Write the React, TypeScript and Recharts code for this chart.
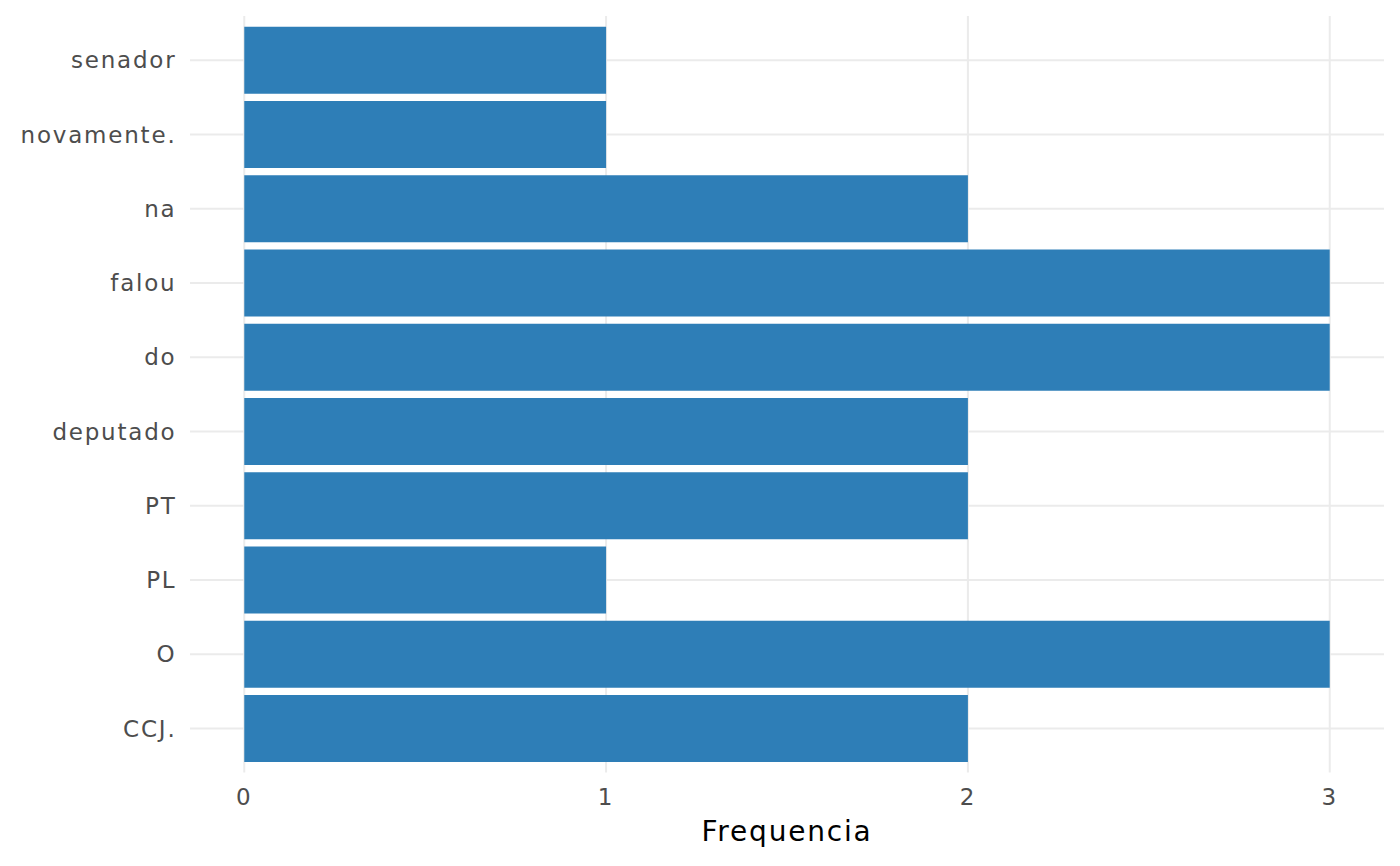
import React from 'react';
import { BarChart, Bar, XAxis, YAxis, CartesianGrid } from 'recharts';

// words, top to bottom as they appear on the chart
const palavras = ['senador', 'novamente.', 'na', 'falou', 'do', 'deputado', 'PT', 'PL', 'O', 'CCJ.'];
const frequencias = [1, 1, 2, 3, 3, 2, 2, 1, 3, 2];
const xTicks = [0, 1, 2, 3];

const data = palavras.map((palavra, i) => ({ palavra, freq: frequencias[i] }));

const App: React.FC = () => {
  return (
    <div
      style={{
        position: 'absolute',
        left: 0,
        top: 0,
        width: 1400,
        height: 866,
        background: '#fff',
        fontFamily: '"DejaVu Sans", sans-serif',
        letterSpacing: '1.8px',
      }}
    >
      <BarChart
        width={1400}
        height={866}
        data={data}
        layout="vertical"
        margin={{ top: 16, right: 16, bottom: 0, left: 0 }}
        barCategoryGap="5%"
      >
        <CartesianGrid stroke="#EBEBEB" strokeWidth={2} syncWithTicks />
        <XAxis
          type="number"
          dataKey="freq"
          domain={[-0.15, 3.15]}
          ticks={xTicks}
          allowDataOverflow
          height={93.5}
          axisLine={false}
          tickLine={false}
          tickSize={0}
          tickMargin={16}
          tick={{ fontSize: 23, fill: '#4D4D4D' }}
          label={{ value: 'Frequencia', position: 'insideBottom', offset: 25, fontSize: 28, fill: '#000' }}
        />
        <YAxis
          type="category"
          dataKey="palavra"
          width={190}
          padding={{ top: 7, bottom: 7 }}
          axisLine={false}
          tickLine={false}
          tickSize={0}
          tickMargin={13.5}
          interval={0}
          tick={{ fontSize: 23, fill: '#4D4D4D' }}
        />
        <Bar dataKey="freq" fill="#2E7EB7" isAnimationActive={false} />
      </BarChart>
    </div>
  );
};

export default App;
